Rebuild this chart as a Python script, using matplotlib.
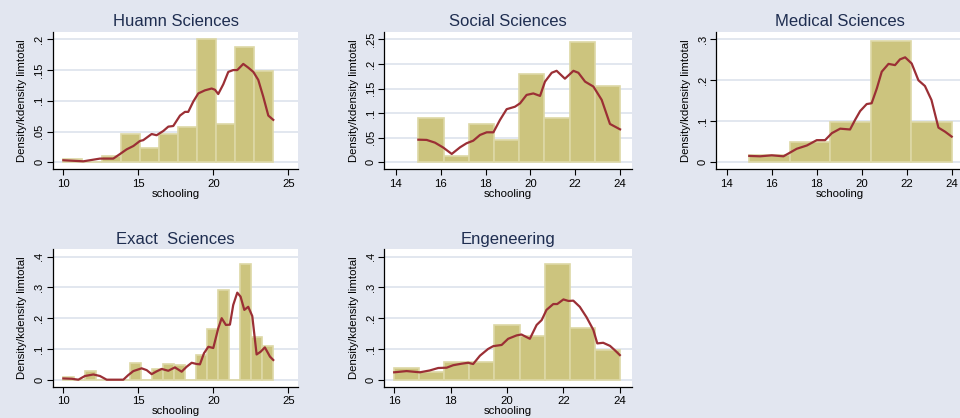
import numpy as np
from matplotlib import pyplot as plt
from matplotlib.ticker import FuncFormatter

plt.rcParams['font.family'] = ['Liberation Sans', 'DejaVu Sans']

BG = '#e2e6f0'
BAR = '#ccc47e'
BAR_EDGE = '#ddd8a6'
LINE = '#9b2f35'
GRID = '#dde3ec'
TITLE = '#1e2d50'

# panel titles
titles = ['Huamn Sciences', 'Social Sciences', 'Medical Sciences',
          'Exact  Sciences', 'Engeneering']

# histogram: range of schooling and number of bins, heights (density)
hum_range = (10, 24, 11)
hum_hist = [0.006, 0.0, 0.011, 0.0455, 0.024, 0.0455, 0.058, 0.2, 0.063, 0.188, 0.149]
soc_range = (15, 24, 8)
soc_hist = [0.0895, 0.0122, 0.078, 0.0447, 0.179, 0.0895, 0.245, 0.156]
med_range = (15, 24, 5)
med_hist = [0.0185, 0.0496, 0.099, 0.295, 0.099]
exa_range = (10, 24, 19)
exa_hist = [0.0076, 0.0, 0.027, 0.0, 0.0, 0.0, 0.054, 0.0, 0.034, 0.05, 0.048,
            0.0, 0.081, 0.165, 0.293, 0.0, 0.376, 0.138, 0.11]
eng_range = (16, 24, 9)
eng_hist = [0.037, 0.024, 0.0585, 0.0585, 0.177, 0.142, 0.376, 0.167, 0.095]

# kernel density curves
hum_kx = [10, 11.33, 12.44, 13.33, 13.78, 14.22, 14.67, 15.11, 15.33, 15.89, 16.22,
          16.67, 17.0, 17.33, 17.78, 18.11, 18.33, 18.67, 19.0, 19.44, 19.89, 20.11,
          20.33, 20.67, 21.0, 21.33, 21.6, 22.0, 22.33, 22.67, 23.0, 23.33, 23.67, 24.0]
hum_ky = [0.0033, 0.0016, 0.006, 0.006, 0.0135, 0.021, 0.0265, 0.0347, 0.036, 0.046, 0.044,
          0.051, 0.058, 0.059, 0.076, 0.082, 0.082, 0.099, 0.112, 0.117, 0.12, 0.118,
          0.111, 0.127, 0.147, 0.15, 0.15, 0.16, 0.154, 0.147, 0.134, 0.107, 0.076, 0.069]
soc_kx = [15.0, 15.37, 15.74, 16.11, 16.49, 16.86, 17.15, 17.45, 17.75, 18.05, 18.35,
          18.64, 18.94, 19.31, 19.54, 19.83, 20.13, 20.43, 20.65, 20.95, 21.17, 21.54,
          21.92, 22.14, 22.44, 22.81, 23.18, 23.55, 24.0]
soc_ky = [0.046, 0.0455, 0.04, 0.03, 0.017, 0.0305, 0.0387, 0.044, 0.0556, 0.061, 0.061,
          0.086, 0.108, 0.113, 0.12, 0.137, 0.14, 0.135, 0.164, 0.182, 0.186, 0.17,
          0.186, 0.182, 0.164, 0.154, 0.127, 0.078, 0.067]
med_kx = [15.0, 15.48, 16.0, 16.52, 16.81, 17.11, 17.56, 18.0, 18.37, 18.67, 19.04,
          19.48, 19.7, 19.93, 20.22, 20.44, 20.67, 20.89, 21.19, 21.48, 21.7, 21.93,
          22.22, 22.52, 22.81, 23.1, 23.41, 23.7, 24.0]
med_ky = [0.0155, 0.0146, 0.017, 0.0146, 0.0236, 0.033, 0.041, 0.054, 0.054, 0.071, 0.082,
          0.08, 0.103, 0.125, 0.142, 0.144, 0.18, 0.221, 0.24, 0.237, 0.251, 0.256,
          0.241, 0.2, 0.186, 0.152, 0.0845, 0.0748, 0.0626]
exa_kx = [10, 10.56, 11.0, 11.44, 12.0, 12.44, 12.89, 13.44, 14.0, 14.33, 14.67, 15.22,
          15.56, 15.89, 16.22, 16.56, 17.0, 17.44, 17.89, 18.22, 18.56, 18.89, 19.11,
          19.38, 19.67, 20.0, 20.33, 20.56, 20.84, 21.11, 21.33, 21.6, 21.82, 22.07,
          22.33, 22.6, 22.89, 23.16, 23.44, 23.78, 24.0]
exa_ky = [0.004, 0.003, 0.0, 0.012, 0.017, 0.012, 0.0, 0.0, 0.0, 0.015, 0.028, 0.037,
          0.031, 0.018, 0.027, 0.035, 0.029, 0.04, 0.026, 0.042, 0.055, 0.051, 0.05,
          0.086, 0.107, 0.103, 0.167, 0.2, 0.178, 0.179, 0.243, 0.283, 0.27, 0.227,
          0.237, 0.207, 0.082, 0.091, 0.105, 0.075, 0.064]
eng_kx = [16.0, 16.44, 16.91, 17.26, 17.56, 17.86, 18.09, 18.39, 18.62, 18.8, 19.04,
          19.33, 19.51, 19.81, 20.04, 20.34, 20.51, 20.81, 21.05, 21.23, 21.4, 21.64,
          21.78, 22.0, 22.18, 22.35, 22.58, 22.82, 23.06, 23.2, 23.41, 23.65, 23.82, 24.0]
eng_ky = [0.024, 0.028, 0.024, 0.03, 0.038, 0.039, 0.047, 0.052, 0.055, 0.051, 0.078,
          0.1, 0.109, 0.113, 0.133, 0.144, 0.147, 0.133, 0.178, 0.194, 0.227, 0.246,
          0.246, 0.261, 0.256, 0.257, 0.237, 0.203, 0.162, 0.118, 0.12, 0.11, 0.096, 0.08]


def stata_fmt(v, pos):
    s = '%g' % round(v, 4)
    if s.startswith('0.'):
        s = s[1:]
    return s


def draw_panel(ax, title, rng, hist, kx, ky, xticks, yticks, xlim, ylim):
    lo, hi, n = rng
    edges = np.linspace(lo, hi, n + 1)
    ax.set_facecolor('white')
    for y in yticks:
        ax.axhline(y, color=GRID, lw=1.2, zorder=0)
    ax.bar(edges[:-1], hist, width=np.diff(edges), align='edge', color=BAR,
           edgecolor=BAR_EDGE, linewidth=1.2, zorder=2)
    ax.plot(kx, ky, color=LINE, lw=1.6, zorder=3)
    ax.set_xlim(*xlim)
    ax.set_ylim(*ylim)
    ax.set_xticks(xticks)
    ax.set_yticks(yticks)
    ax.yaxis.set_major_formatter(FuncFormatter(stata_fmt))
    ax.tick_params(axis='y', labelrotation=90, labelsize=8, length=4, pad=2)
    for lab in ax.get_yticklabels():
        lab.set_va('center')
    ax.tick_params(axis='x', labelsize=8.2, length=4, pad=3)
    ax.spines['top'].set_visible(False)
    ax.spines['right'].set_visible(False)
    ax.spines['left'].set_linewidth(0.9)
    ax.spines['bottom'].set_linewidth(0.9)
    ax.set_title(title, fontsize=12, color=TITLE, pad=4)
    ax.set_xlabel('schooling', fontsize=8.2, labelpad=0)
    ax.set_ylabel('Density/kdensity limtotal', fontsize=8.2, labelpad=5)


fig = plt.figure(figsize=(9.6, 4.18), dpi=100)
fig.patch.set_facecolor(BG)

W, H = 960.0, 418.0


def axes_px(x0, x1, y0, y1):
    return fig.add_axes([x0 / W, (H - y1) / H, (x1 - x0) / W, (y1 - y0) / H])


ax1 = axes_px(52.7, 298.3, 31.7, 169.3)
draw_panel(ax1, titles[0], hum_range, hum_hist, hum_kx, hum_ky,
           [10, 15, 20, 25], [0, 0.05, 0.1, 0.15, 0.2], (9.29, 25.67), (-0.0114, 0.2124))

ax2 = axes_px(384.3, 631.7, 31.7, 169.3)
draw_panel(ax2, titles[1], soc_range, soc_hist, soc_kx, soc_ky,
           [14, 16, 18, 20, 22, 24], [0, 0.05, 0.1, 0.15, 0.2, 0.25],
           (13.48, 24.52), (-0.0142, 0.2655))

ax3 = axes_px(716.0, 963.4, 31.7, 169.3)
draw_panel(ax3, titles[2], med_range, med_hist, med_kx, med_ky,
           [14, 16, 18, 20, 22, 24], [0, 0.1, 0.2, 0.3],
           (13.52, 24.52), (-0.0171, 0.3185))

ax4 = axes_px(52.7, 298.3, 249.3, 386.7)
draw_panel(ax4, titles[3], exa_range, exa_hist, exa_kx, exa_ky,
           [10, 15, 20, 25], [0, 0.1, 0.2, 0.3, 0.4], (9.29, 25.67), (-0.0228, 0.424))

ax5 = axes_px(384.3, 631.7, 249.3, 386.7)
draw_panel(ax5, titles[4], eng_range, eng_hist, eng_kx, eng_ky,
           [16, 18, 20, 22, 24], [0, 0.1, 0.2, 0.3, 0.4], (15.65, 24.42), (-0.0228, 0.424))

fig.savefig('out.png', dpi=100, facecolor=BG)
